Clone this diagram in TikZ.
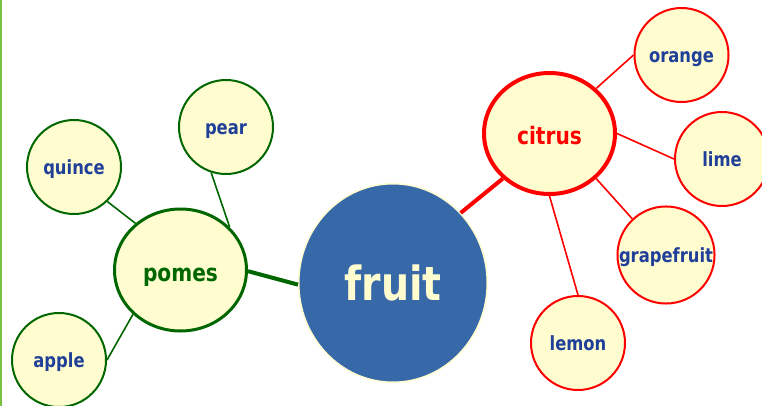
\documentclass[tikz,border=0pt]{standalone}
\usepackage{fontspec}
\usetikzlibrary{shapes.geometric}
\newfontfamily\labfont[FakeStretch=0.84]{DejaVu Sans}
\definecolor{cream}{HTML}{FFFDD0}
\definecolor{gdark}{HTML}{006600}
\definecolor{gbar}{HTML}{7AC143}
\definecolor{lblue}{HTML}{1F3F99}
\definecolor{fblue}{HTML}{3768A8}
\definecolor{cred}{HTML}{FF0000}
\tikzset{
  leafbase/.style={circle, fill=cream, line width=2pt, minimum size=94pt, inner sep=0pt,
    text=lblue, font=\labfont\bfseries\fontsize{19.5}{20}\selectfont, text height=20pt, text depth=5pt},
  gleaf/.style={leafbase, draw=gdark},
  rleaf/.style={leafbase, draw=cred},
  hubbase/.style={ellipse, fill=cream, inner sep=0pt, font=\labfont\bfseries\fontsize{24}{26}\selectfont,
    text height=27pt, text depth=5pt},
  ghub/.style={hubbase, draw=gdark, line width=3pt, minimum width=132pt, minimum height=122pt, text=gdark},
  rhub/.style={hubbase, draw=cred, line width=4pt, minimum width=131pt, minimum height=121pt, text=cred},
  center/.style={ellipse, fill=fblue, draw=cream, line width=1.5pt, minimum width=188.5pt, minimum height=198.5pt,
    inner sep=0pt, text=cream, font=\labfont\bfseries\fontsize{47}{50}\selectfont, text height=40pt, text depth=4.6pt},
  gthin/.style={draw=gdark, line width=1.6pt},
  rthin/.style={draw=cred, line width=1.6pt},
  gthick/.style={draw=gdark, line width=4pt},
  rthick/.style={draw=cred, line width=4pt}
}
\begin{document}
\begin{tikzpicture}[x=1pt, y=-1pt]
\useasboundingbox (0,0) rectangle (762,406);
\fill[white] (0,0) rectangle (762,406);
\fill[gbar] (0,0) rectangle (2,406);
% nodes
\node[gleaf] (quince) at (74,167) {quince};
\node[gleaf] (pear) at (226,127) {pear};
\node[gleaf] (apple) at (59,360) {apple};
\node[ghub] (pomes) at (180.5,270) {pomes};
\node[center] (fruit) at (393,283) {fruit};
\node[rhub] (citrus) at (549.5,133.5) {citrus};
\node[rleaf] (orange) at (681.5,55) {orange};
\node[rleaf] (lime) at (722,159) {lime};
\node[rleaf] (grapefruit) at (666,255) {grapefruit};
\node[rleaf] (lemon) at (578,343) {lemon};
% connectors
\draw[gthin] (quince.-46) -- (pomes.134.7);
\draw[gthin] (pear.252) -- (pomes.41.5);
\draw[gthin] (apple.0) -- (pomes.223.5);
\draw[gthick] (pomes.-1.6) -- (fruit.181.2);
\draw[rthin] (citrus.44) -- (orange.180);
\draw[rthin] (citrus.0) -- (lime.180);
\draw[rthin] (citrus.-44) -- (grapefruit.133);
\draw[rthin] (citrus.-90) -- (lemon.90);
\draw[rthick] (citrus.224) -- (fruit.46.6);
\end{tikzpicture}
\end{document}
